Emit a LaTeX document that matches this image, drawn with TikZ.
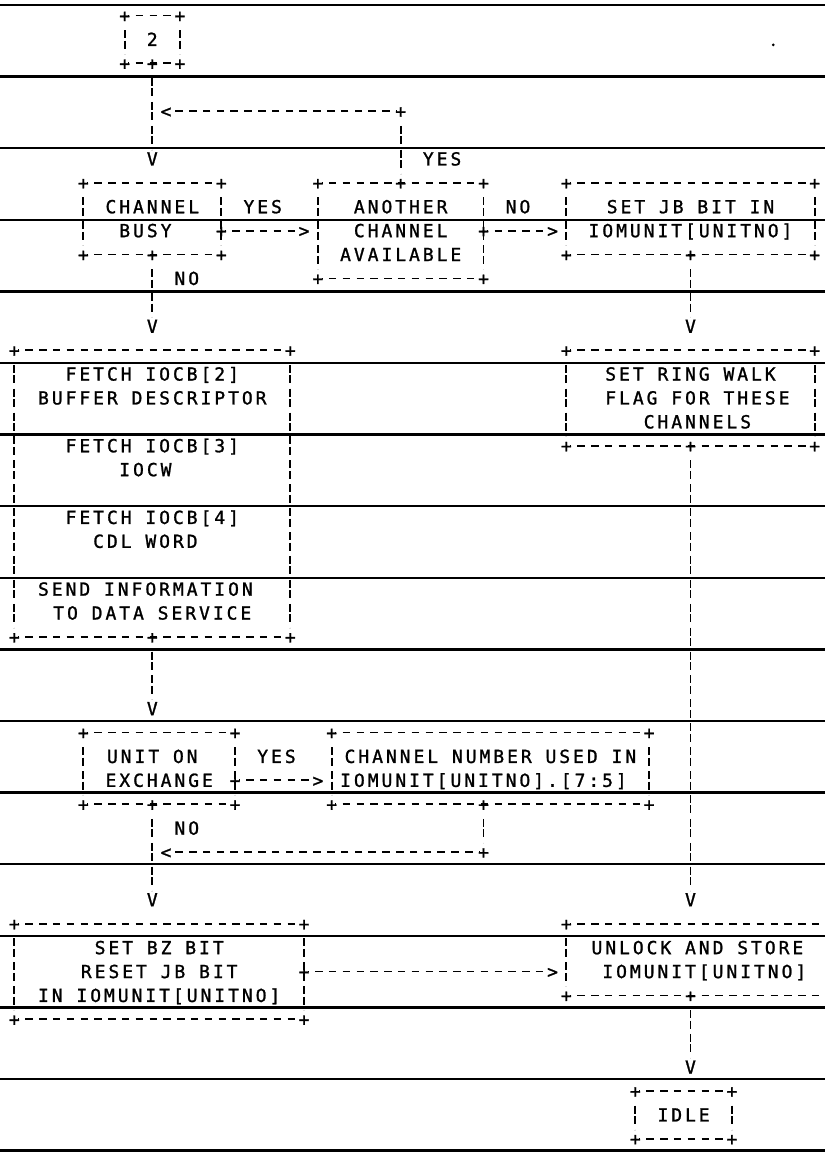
\documentclass[tikz,border=0pt]{standalone}
\usepackage{fontspec}
\newfontfamily\pf[LetterSpace=16.4,FakeBold=1.2]{DejaVu Sans Mono}
\newcommand\abox[5]{%
  \node[box, minimum width={13.8pt*(#4-#2)}, minimum height={23.9pt*(#5-#3)}] (#1) at ({(#2+#4)/2},{(#3+#5)/2}) {};
  \node[ch] (#1-nw) at (#1.north west) {+};
  \node[ch] (#1-ne) at (#1.north east) {+};
  \node[ch] (#1-sw) at (#1.south west) {+};
  \node[ch] (#1-se) at (#1.south east) {+};
  \draw[hd] (#1-nw.center) -- (#1-ne.center);
  \draw[hd] (#1-sw.center) -- (#1-se.center);
  \draw[vd] (#1-nw.center) -- (#1-sw.center);
  \draw[vd] (#1-ne.center) -- (#1-se.center);
}
\begin{document}
\begin{tikzpicture}[x=1pt,y=-1pt,
  rule/.style={line width=2.4pt},
  ch/.style={font={\pf\fontsize{18pt}{18pt}\selectfont}, inner sep=0pt, outer sep=0pt, text height=13.1pt, text depth=0pt, anchor=center},
  hd/.style={line width=1.8pt, dash pattern=on 7.5pt off 6.3pt, dash phase=6.55pt, shorten <=3.75pt, shorten >=3.75pt},
  vd/.style={line width=1.8pt, dash pattern=on 8pt off 2.5pt on 8pt off 5.4pt, dash phase=18.5pt, shorten <=9.25pt, shorten >=9.25pt},
  box/.style={rectangle, inner sep=0pt, outer sep=0pt, draw=none}
]
\useasboundingbox (0,0) rectangle (825,1152);
\clip (0,0) rectangle (825,1152);
\fill[white] (0,0) rectangle (825,1152);
\foreach \k in {0,...,16} \draw[rule] (0,{5+71.6*\k}) -- (825,{5+71.6*\k});

\begin{scope}[shift={(14.3pt,-15.5pt)}, x=13.8pt, y=-23.9pt]
% start box
\abox{b2}{8}{0}{12}{2}
\node[ch] (t2) at (10,1) {2};
\node[ch] (b2s) at (10,2) {+};
\node[ch] (v1) at (10,6) {V};
\draw[vd] (b2s.center) -- (v1.center);
\node[ch] (lt1) at (11,4) {<};
\node[ch] (p1) at (28,4) {+};
\draw[hd] (p1.center) -- (lt1.center);
\fill (55,1.23) circle (1.5pt);

% channel busy
\abox{cb}{5}{7}{15}{10}
\node[ch] (cbt1) at (10,8) {CHANNEL};
\node[ch] (cbt2) at (9.5,9) {BUSY};
\node[ch] (cbs) at (10,10) {+};
\node[ch] (cbe) at (15,9) {+};
\node[ch] (gt1) at (21,9) {>};
\draw[hd] (cbe.center) -- (gt1.center);
\node[ch] (yes1) at (18,8) {YES};

% another channel available
\abox{ac}{22}{7}{34}{11}
\node[ch] (acn) at (28,7) {+};
\draw[vd] (p1.center) -- (acn.center);
\node[ch] (yes2) at (31,6) {YES};
\node[ch] (act1) at (28,8) {ANOTHER};
\node[ch] (act2) at (28,9) {CHANNEL};
\node[ch] (act3) at (28,10) {AVAILABLE};
\node[ch] (ace) at (34,9) {+};
\node[ch] (gt2) at (39,9) {>};
\draw[hd] (ace.center) -- (gt2.center);
\node[ch] (no1) at (36.5,8) {NO};

% set jb bit
\abox{jb}{40}{7}{58}{10}
\node[ch] (jbt1) at (49,8) {SET JB BIT IN};
\node[ch] (jbt2) at (49,9) {IOMUNIT[UNITNO]};
\node[ch] (jbs) at (49,10) {+};
\node[ch] (v2) at (49,13) {V};
\draw[vd] (jbs.center) -- (v2.center);

\node[ch] (v3) at (10,13) {V};
\draw[vd] (cbs.center) -- (v3.center);
\node[ch] (no2) at (12.5,11) {NO};

% fetch box
\abox{fe}{0}{14}{20}{26}
\node[ch] (fet1) at (10,15) {FETCH IOCB[2]};
\node[ch] (fet2) at (10,16) {BUFFER DESCRIPTOR};
\node[ch] (fet3) at (10,18) {FETCH IOCB[3]};
\node[ch] (fet4) at (9.5,19) {IOCW};
\node[ch] (fet5) at (10,21) {FETCH IOCB[4]};
\node[ch] (fet6) at (9.5,22) {CDL WORD};
\node[ch] (fet7) at (9.5,24) {SEND INFORMATION};
\node[ch] (fet8) at (10,25) {TO DATA SERVICE};
\node[ch] (fes) at (10,26) {+};
\node[ch] (v4) at (10,29) {V};
\draw[vd] (fes.center) -- (v4.center);

% ring walk
\abox{rw}{40}{14}{58}{18}
\node[ch] (rwt1) at (49,15) {SET RING WALK};
\node[ch] (rwt2) at (49.5,16) {FLAG FOR THESE};
\node[ch] (rwt3) at (49.5,17) {CHANNELS};
\node[ch] (rws) at (49,18) {+};
\node[ch] (v5) at (49,37) {V};
\draw[vd] (rws.center) -- (v5.center);

% unit on exchange
\abox{ux}{5}{30}{16}{33}
\node[ch] (uxt1) at (10,31) {UNIT ON};
\node[ch] (uxt2) at (10.5,32) {EXCHANGE};
\node[ch] (uxe) at (16,32) {+};
\node[ch] (gt3) at (22,32) {>};
\draw[hd] (uxe.center) -- (gt3.center);
\node[ch] (yes3) at (19,31) {YES};

% channel number
\abox{cn}{23}{30}{46}{33}
\node[ch] (cnt1) at (34.5,31) {CHANNEL NUMBER USED IN};
\node[ch] (cnt2) at (34,32) {IOMUNIT[UNITNO].[7:5]};
\node[ch] (cns) at (34,33) {+};
\node[ch] (p2) at (34,35) {+};
\draw[vd] (cns.center) -- (p2.center);
\node[ch] (lt2) at (11,35) {<};
\draw[hd] (p2.center) -- (lt2.center);
\node[ch] (uxs) at (10,33) {+};
\node[ch] (v6) at (10,37) {V};
\draw[vd] (uxs.center) -- (v6.center);
\node[ch] (no3) at (12.5,34) {NO};

% set bz
\abox{bz}{0}{38}{21}{42}
\node[ch] (bzt1) at (10.5,39) {SET BZ BIT};
\node[ch] (bzt2) at (10.5,40) {RESET JB BIT};
\node[ch] (bzt3) at (10.5,41) {IN IOMUNIT[UNITNO]};
\node[ch] (bze) at (21,40) {+};
\node[ch] (gt4) at (39,40) {>};
\draw[hd] (bze.center) -- (gt4.center);

% unlock (right side runs off the page)
\node[box, minimum width={13.8pt*20}, minimum height={23.9pt*3}] (ul) at (50,39.5) {};
\node[ch] (ul-nw) at (ul.north west) {+};
\node[ch] (ul-sw) at (ul.south west) {+};
\coordinate (ul-ne) at (ul.north east);
\coordinate (ul-se) at (ul.south east);
\draw[hd] (ul-nw.center) -- (ul-ne);
\draw[hd] (ul-sw.center) -- (ul-se);
\draw[vd] (ul-nw.center) -- (ul-sw.center);
\node[ch] (ult1) at (49.5,39) {UNLOCK AND STORE};
\node[ch] (ult2) at (50,40) {IOMUNIT[UNITNO]};
\node[ch] (uls) at (49,41) {+};
\node[ch] (v7) at (49,44) {V};
\draw[vd] (uls.center) -- (v7.center);

% idle
\abox{id}{45}{45}{52}{47}
\node[ch] (idt) at (48.5,46) {IDLE};
\end{scope}
\end{tikzpicture}
\end{document}
